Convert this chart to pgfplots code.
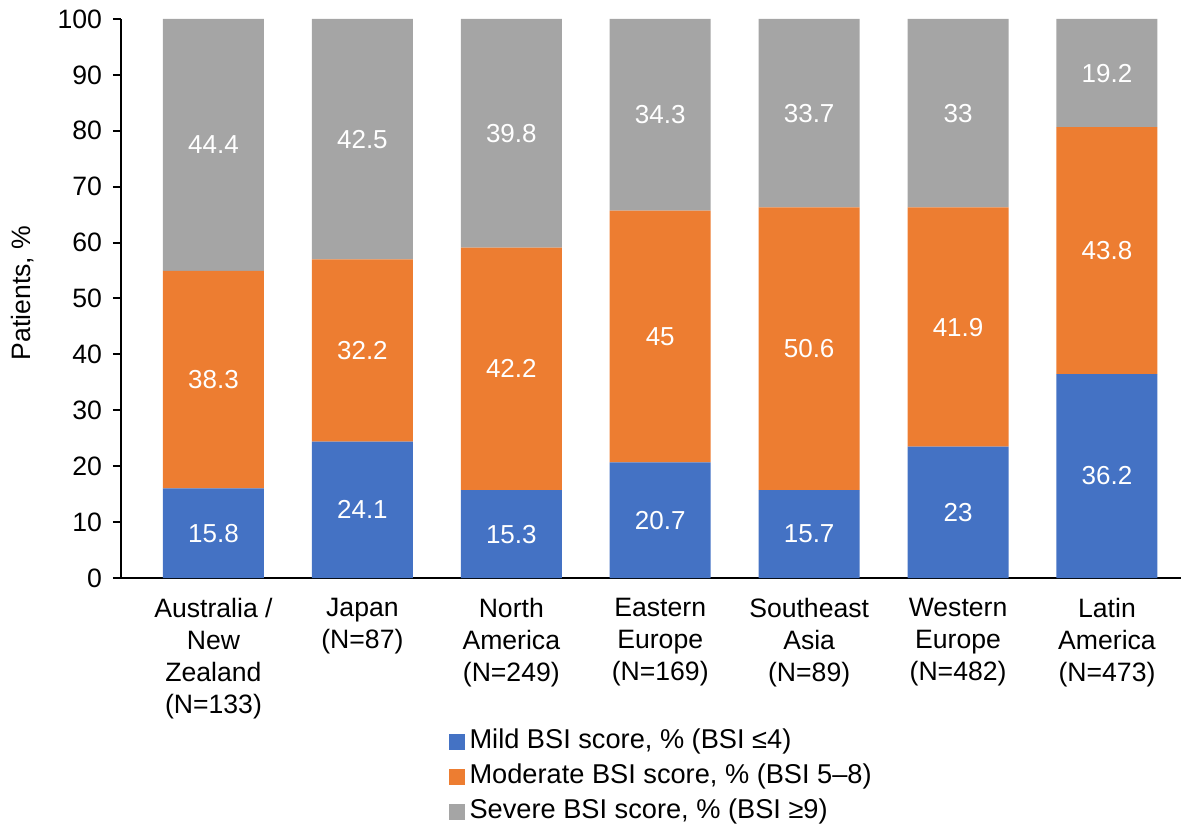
\documentclass[border=0pt]{standalone}
\usepackage{fontspec}
\setmainfont{Liberation Sans}
\usepackage{pgfplots}
\usepackage{pgfplotstable}
\pgfplotsset{compat=1.18}
\definecolor{mild}{HTML}{4472C4}
\definecolor{moderate}{HTML}{ED7D31}
\definecolor{severe}{HTML}{A5A5A5}

% bar heights are the shares rescaled to 100; labels are the reported values
\pgfplotstableread{
x a     b     c     la   lb   lc
0 16.04 38.88 45.08 15.8 38.3 44.4
1 24.39 32.59 43.02 24.1 32.2 42.5
2 15.72 43.37 40.91 15.3 42.2 39.8
3 20.70 45.00 34.30 20.7 45   34.3
4 15.70 50.60 33.70 15.7 50.6 33.7
5 23.49 42.80 33.71 23   41.9 33
6 36.49 44.15 19.36 36.2 43.8 19.2
}\data

\newcommand{\fs}{\fontsize{13.3}{16}\selectfont}

\begin{document}
\begin{tikzpicture}
\useasboundingbox (-60.5pt,-125.5pt) rectangle (530pt,289pt);
\begin{axis}[
    scale only axis,
    width=530pt, height=279.5pt,
    ybar stacked, bar width=50.5pt,
    xmin=-0.621, xmax=6.497,
    ymin=0, ymax=100,
    axis x line=bottom, axis y line=left,
    axis line style={line width=1pt, -},
    xtick=data,
    xtick style={draw=none},
    xticklabels={{Australia /\\New\\Zealand\\(N=133)}, {Japan\\(N=87)},
        {North\\America\\(N=249)}, {Eastern\\Europe\\(N=169)},
        {Southeast\\Asia\\(N=89)}, {Western\\Europe\\(N=482)},
        {Latin\\America\\(N=473)}},
    xticklabel style={align=center, font=\fs, yshift=-2.5pt},
    ytick={0,10,...,100},
    ytick style={line width=1pt, black},
    tick align=outside, major tick length=4pt,
    yticklabel style={font=\fs, xshift=-2pt},
    /pgf/number format/assume math mode=true,
    ylabel={Patients, \%},
    ylabel style={font=\fs, at={(axis description cs:-0.0925,0.51)}, anchor=center},
    nodes near coords,
    point meta=explicit symbolic,
    every node near coord/.append style={font=\fontsize{13}{16}\selectfont,
        text=white, anchor=center},
    legend style={at={(axis description cs:0.303,-0.254)}, anchor=north west,
        draw=none, fill=none, font=\fontsize{13.6}{16}\selectfont, row sep=0pt,
        nodes={text height=10pt, text depth=3.5pt, inner ysep=2pt, inner xsep=2.5pt}},
    legend cell align=left,
    legend image code/.code={\fill[#1] (0pt,-4pt) rectangle (8pt,4pt);},
]
\addplot[fill=mild, draw=none] table[x=x, y=a, meta=la] {\data};
\addlegendentry{Mild BSI score, \% (BSI ≤4)}
\addplot[fill=moderate, draw=none] table[x=x, y=b, meta=lb] {\data};
\addlegendentry{Moderate BSI score, \% (BSI 5–8)}
\addplot[fill=severe, draw=none] table[x=x, y=c, meta=lc] {\data};
\addlegendentry{Severe BSI score, \% (BSI ≥9)}
\end{axis}
\end{tikzpicture}
\end{document}
